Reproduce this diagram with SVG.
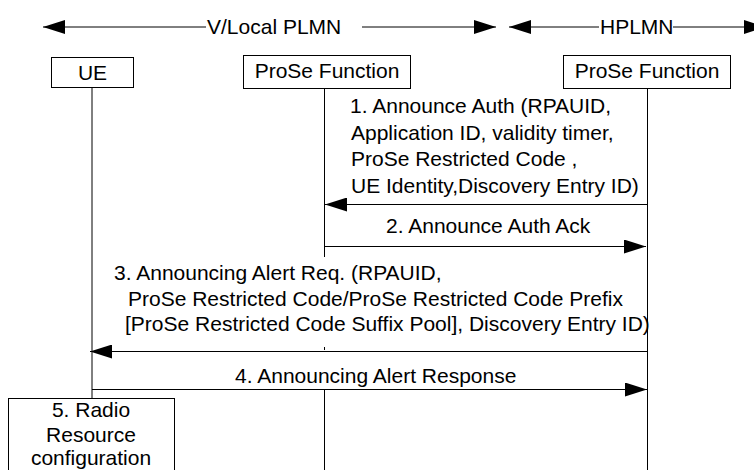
<svg xmlns="http://www.w3.org/2000/svg" width="754" height="470" viewBox="0 0 754 470">
<defs>
<marker id="ah" markerUnits="userSpaceOnUse" markerWidth="22" markerHeight="14" refX="22" refY="7" orient="auto">
<path d="M0,0 L22,7 L0,14 z" fill="#000"/>
</marker>
<style>
text{font-family:"Liberation Sans",Arial,sans-serif;font-size:21px;fill:#000}
.box{fill:#fff;stroke:#000;stroke-width:1}
.ln{stroke:#000;stroke-width:1;fill:none}
.msg{stroke:#000;stroke-width:1;fill:none;marker-end:url(#ah)}
.c{text-anchor:middle}
</style>
</defs>
<rect width="754" height="470" fill="#fff"/>
<g id="headers">
<line class="msg" x1="206" y1="27" x2="43" y2="27"/>
<text x="207" y="34">V/Local PLMN</text>
<line class="msg" x1="362" y1="27" x2="496" y2="27"/>
<line class="msg" x1="599" y1="27" x2="509" y2="27"/>
<text x="600" y="34">HPLMN</text>
<line class="msg" x1="673" y1="27" x2="766" y2="27"/>
</g>
<g id="lifelines">
<line class="ln" x1="92" y1="87" x2="92" y2="398"/>
<line class="ln" x1="324.5" y1="88" x2="324.5" y2="257"/>
<line class="ln" x1="324.5" y1="347" x2="324.5" y2="350"/>
<line class="ln" x1="324.5" y1="389" x2="324.5" y2="470"/>
<line class="ln" x1="647.5" y1="88" x2="647.5" y2="470"/>
</g>
<g id="ue">
<rect class="box" x="51.5" y="57.5" width="82" height="30"/>
<text class="c" x="92.5" y="80">UE</text>
</g>
<g id="prose-vplmn">
<rect class="box" x="243.5" y="55.5" width="167" height="33"/>
<text class="c" x="327" y="78">ProSe Function</text>
</g>
<g id="prose-hplmn">
<rect class="box" x="563.5" y="55.5" width="167" height="33"/>
<text class="c" x="647" y="78">ProSe Function</text>
</g>
<g id="radio-config">
<rect class="box" x="8.5" y="398.5" width="166" height="80"/>
<text class="c" x="91" y="417">5. Radio</text>
<text class="c" x="91" y="442">Resource</text>
<text class="c" x="91" y="465">configuration</text>
</g>
<g id="connectors">
<line class="msg" x1="647" y1="204.5" x2="325" y2="204.5"/>
<line class="msg" x1="324" y1="246.5" x2="646" y2="246.5"/>
<line class="msg" x1="647" y1="351.5" x2="90" y2="351.5"/>
<line class="msg" x1="92" y1="389.5" x2="647" y2="389.5"/>
</g>
<g id="labels">
<text x="350" y="113">1. Announce Auth (RPAUID,</text>
<text x="351" y="140">Application ID, validity timer,</text>
<text x="351" y="166">ProSe Restricted Code ,</text>
<text x="351" y="193">UE Identity,Discovery Entry ID)</text>
<text x="386" y="233">2. Announce Auth Ack</text>
<text x="114" y="280">3. Announcing Alert Req. (RPAUID,</text>
<text x="128" y="306">ProSe Restricted Code/ProSe Restricted Code Prefix</text>
<text x="125" y="331">[ProSe Restricted Code Suffix Pool], Discovery Entry ID)</text>
<text x="235" y="383">4. Announcing Alert Response</text>
</g>
</svg>
